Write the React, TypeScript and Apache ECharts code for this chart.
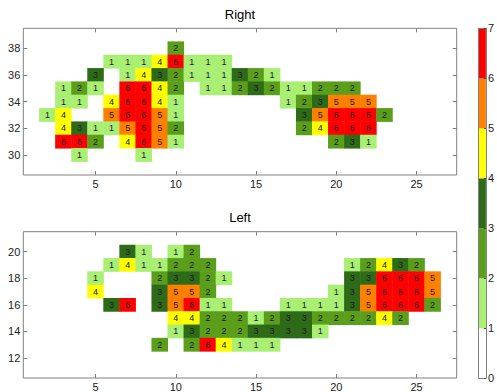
import React, { useEffect, useRef } from "react";
import * as echarts from "echarts";

// categories
const xCategories = ["1","2","3","4","5","6","7","8","9","10","11","12","13","14","15","16","17","18","19","20","21","22","23","24","25","26","27"];
const rightYCategories = ["29","30","31","32","33","34","35","36","37","38","39"];
const leftYCategories = ["11","12","13","14","15","16","17","18","19","20","21"];

// tick labels
const xTicks = [5, 10, 15, 20, 25];
const rightYTicks = [30, 32, 34, 36, 38];
const leftYTicks = [12, 14, 16, 18, 20];
const colorbarTicks = [0, 1, 2, 3, 4, 5, 6, 7];

// Right panel rows: [x, value]
const right38 = [[10, 2]];
const right37 = [[6, 1], [7, 1], [8, 1], [9, 4], [10, 6], [11, 1], [12, 1], [13, 1]];
const right36 = [[5, 3], [7, 1], [8, 4], [9, 3], [10, 2], [11, 1], [12, 1], [13, 1], [14, 3], [15, 2], [16, 1]];
const right35 = [[3, 1], [4, 2], [5, 1], [7, 6], [8, 6], [9, 4], [10, 2], [12, 1], [13, 1], [14, 2], [15, 3], [16, 2], [17, 1], [18, 1], [19, 2], [20, 2], [21, 2]];
const right34 = [[3, 1], [4, 1], [6, 4], [7, 6], [8, 6], [9, 4], [10, 1], [17, 1], [18, 2], [19, 3], [20, 5], [21, 5], [22, 5]];
const right33 = [[2, 1], [3, 4], [6, 5], [7, 6], [8, 6], [9, 5], [10, 1], [18, 3], [19, 5], [20, 6], [21, 6], [22, 6], [23, 2]];
const right32 = [[3, 4], [4, 3], [5, 1], [6, 1], [7, 5], [8, 6], [9, 5], [10, 2], [18, 2], [19, 4], [20, 6], [21, 6], [22, 6]];
const right31 = [[3, 6], [4, 6], [5, 2], [7, 4], [8, 6], [9, 5], [10, 1], [20, 2], [21, 3], [22, 1]];
const right30 = [[4, 1], [8, 1]];
const rightRows: [number, number[][]][] = [
  [38, right38], [37, right37], [36, right36], [35, right35], [34, right34],
  [33, right33], [32, right32], [31, right31], [30, right30],
];

// Left panel rows: [x, value]
const left20 = [[7, 3], [8, 1], [10, 1], [11, 2]];
const left19 = [[6, 1], [7, 4], [8, 1], [9, 1], [10, 2], [11, 2], [12, 2], [21, 1], [22, 2], [23, 4], [24, 3], [25, 2]];
const left18 = [[5, 1], [9, 2], [10, 3], [11, 3], [12, 2], [13, 1], [21, 3], [22, 3], [23, 6], [24, 6], [25, 6], [26, 5]];
const left17 = [[5, 4], [9, 3], [10, 5], [11, 5], [12, 2], [20, 1], [21, 3], [22, 5], [23, 6], [24, 6], [25, 6], [26, 5]];
const left16 = [[6, 3], [7, 6], [9, 3], [10, 5], [11, 6], [12, 1], [13, 1], [17, 1], [18, 1], [19, 1], [20, 1], [21, 3], [22, 5], [23, 6], [24, 6], [25, 6], [26, 2]];
const left15 = [[10, 4], [11, 4], [12, 2], [13, 2], [14, 2], [15, 1], [16, 2], [17, 3], [18, 3], [19, 2], [20, 2], [21, 2], [22, 2], [23, 4], [24, 2]];
const left14 = [[10, 1], [11, 3], [12, 2], [13, 2], [14, 2], [15, 3], [16, 3], [17, 3], [18, 3], [19, 1]];
const left13 = [[9, 2], [11, 2], [12, 6], [13, 4], [14, 1], [15, 1], [16, 1]];
const leftRows: [number, number[][]][] = [
  [20, left20], [19, left19], [18, left18], [17, left17], [16, left16],
  [15, left15], [14, left14], [13, left13],
];

// colour scale 0..7 (one colour per unit band)
const levelColors = ["#ffffff", "#a9ef73", "#5a9e1c", "#2e6b18", "#ffff00", "#ff8000", "#ff0000"];

const FONT = "Liberation Sans, Arial, sans-serif";
const AXIS_GRAY = "#808080";
const TEXT = "#222222";

function toCells(rows: [number, number[][]][], yCats: string[]) {
  const out: number[][] = [];
  rows.forEach(([y, cells]) => {
    const yi = yCats.indexOf(String(y));
    cells.forEach(([x, v]) => {
      out.push([xCategories.indexOf(String(x)), yi, v]);
    });
  });
  return out;
}

function tickFn(ticks: number[]) {
  return (_i: number, value: string) => ticks.includes(Number(value));
}

function panelAxes(gridIndex: number, yCats: string[], yTicks: number[]) {
  const xs = [
    {
      type: "category", gridIndex, position: "bottom", data: xCategories,
      axisLine: { show: false },
      axisTick: { show: true, inside: true, length: 4, alignWithLabel: true, interval: tickFn(xTicks), lineStyle: { color: AXIS_GRAY } },
      axisLabel: { show: true, interval: tickFn(xTicks), margin: 3, color: TEXT, fontSize: 11, fontFamily: FONT },
      splitLine: { show: false },
    },
    {
      type: "category", gridIndex, position: "top", data: xCategories,
      axisLine: { show: false },
      axisTick: { show: true, inside: true, length: 4, alignWithLabel: true, interval: tickFn(xTicks), lineStyle: { color: AXIS_GRAY } },
      axisLabel: { show: false },
      splitLine: { show: false },
    },
  ];
  const ys = [
    {
      type: "category", gridIndex, position: "left", data: yCats,
      axisLine: { show: false },
      axisTick: { show: true, inside: true, length: 4, alignWithLabel: true, interval: tickFn(yTicks), lineStyle: { color: AXIS_GRAY } },
      axisLabel: { show: true, interval: tickFn(yTicks), margin: 3, color: TEXT, fontSize: 11, fontFamily: FONT },
      splitLine: { show: false },
    },
    {
      type: "category", gridIndex, position: "right", data: yCats,
      axisLine: { show: false },
      axisTick: { show: true, inside: true, length: 4, alignWithLabel: true, interval: tickFn(yTicks), lineStyle: { color: AXIS_GRAY } },
      axisLabel: { show: false },
      splitLine: { show: false },
    },
  ];
  return { xs, ys };
}

export default function App() {
  const ref = useRef<HTMLDivElement>(null);

  useEffect(() => {
    if (!ref.current) return;
    const chart = echarts.init(ref.current, undefined, { renderer: "svg" });

    const p0 = panelAxes(0, rightYCategories, rightYTicks);
    const p1 = panelAxes(1, leftYCategories, leftYTicks);

    const cellLabel = {
      show: true,
      color: "#1a1a1a",
      fontSize: 9,
      fontFamily: FONT,
      formatter: (p: any) => String(p.value[2]),
    };

    const colorbarSeries = levelColors.map((c) => ({
      type: "bar",
      xAxisIndex: 4,
      yAxisIndex: 4,
      stack: "cb",
      barWidth: "100%",
      silent: true,
      data: [1],
      itemStyle: { color: c },
      z: 2,
    }));

    const option: any = {
      animation: false,
      backgroundColor: "#ffffff",
      title: [
        { text: "Right", left: 240, top: 8, textAlign: "center", padding: 0, textStyle: { fontSize: 13, fontWeight: "normal", color: "#000", fontFamily: FONT } },
        { text: "Left", left: 240, top: 211, textAlign: "center", padding: 0, textStyle: { fontSize: 13, fontWeight: "normal", color: "#000", fontFamily: FONT } },
      ],
      grid: [
        { left: 23.3, top: 28.3, width: 433.4, height: 146.7, show: true, borderColor: AXIS_GRAY, borderWidth: 1, backgroundColor: "transparent" },
        { left: 23.3, top: 231.7, width: 433.4, height: 146.6, show: true, borderColor: AXIS_GRAY, borderWidth: 1, backgroundColor: "transparent" },
        { left: 478.3, top: 28.3, width: 10.7, height: 350, show: false },
      ],
      xAxis: [
        ...p0.xs,
        ...p1.xs,
        {
          type: "category", gridIndex: 2, data: ["cb"], position: "bottom", z: 10,
          axisLine: { show: true, onZero: false, lineStyle: { color: AXIS_GRAY } },
          axisTick: { show: false }, axisLabel: { show: false }, splitLine: { show: false },
        },
        {
          type: "category", gridIndex: 2, data: ["cb"], position: "top", z: 10,
          axisLine: { show: true, onZero: false, lineStyle: { color: AXIS_GRAY } },
          axisTick: { show: false }, axisLabel: { show: false }, splitLine: { show: false },
        },
      ],
      yAxis: [
        ...p0.ys,
        ...p1.ys,
        {
          type: "value", gridIndex: 2, position: "right", min: 0, max: 7, interval: 1, z: 10,
          axisLine: { show: true, lineStyle: { color: AXIS_GRAY } },
          axisTick: { show: true, inside: true, length: 2, lineStyle: { color: "#444" } },
          axisLabel: { show: true, margin: 2, color: TEXT, fontSize: 11, fontFamily: FONT,
            formatter: (v: number) => (colorbarTicks.includes(v) ? String(v) : "") },
          splitLine: { show: false },
        },
        {
          type: "value", gridIndex: 2, position: "left", min: 0, max: 7, interval: 1, z: 10,
          axisLine: { show: true, lineStyle: { color: AXIS_GRAY } },
          axisTick: { show: false }, axisLabel: { show: false }, splitLine: { show: false },
        },
      ],
      visualMap: {
        type: "piecewise",
        show: false,
        seriesIndex: [0, 1],
        dimension: 2,
        pieces: levelColors.map((c, i) => ({ gte: i, lt: i + 1, color: c })),
      },
      series: [
        {
          type: "heatmap",
          xAxisIndex: 0,
          yAxisIndex: 0,
          data: toCells(rightRows, rightYCategories),
          label: cellLabel,
          emphasis: { disabled: true },
          silent: true,
        },
        {
          type: "heatmap",
          xAxisIndex: 2,
          yAxisIndex: 2,
          data: toCells(leftRows, leftYCategories),
          label: cellLabel,
          emphasis: { disabled: true },
          silent: true,
        },
        ...colorbarSeries,
      ],
    };

    chart.setOption(option);
    return () => chart.dispose();
  }, []);

  return <div ref={ref} style={{ width: 497, height: 392, position: "absolute", left: 0, top: 0 }} />;
}
